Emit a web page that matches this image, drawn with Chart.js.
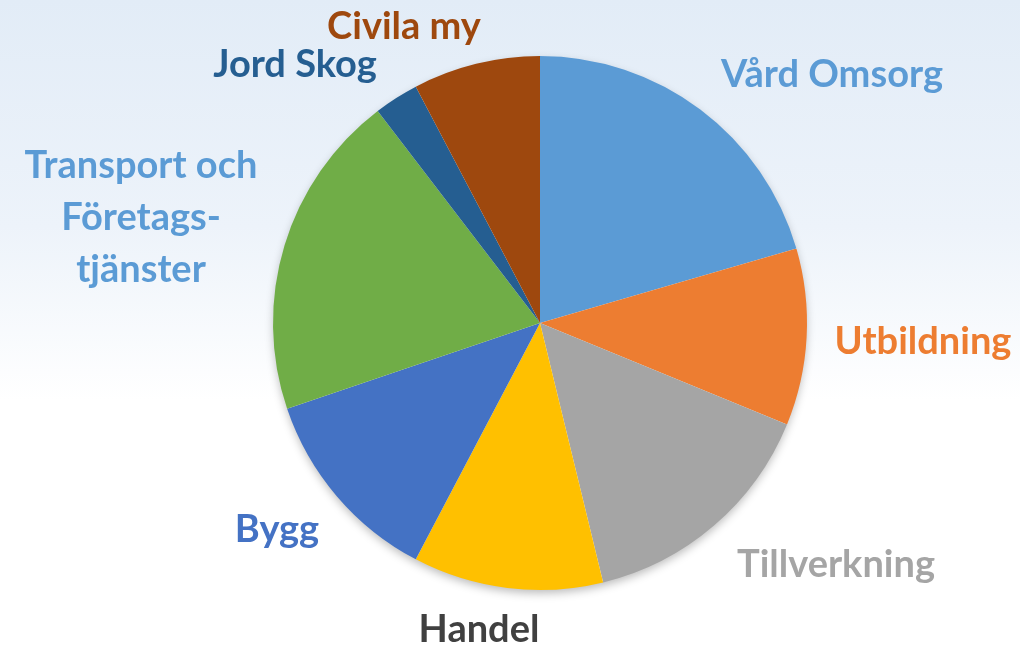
<!DOCTYPE html>
<html>
<head>
<meta charset="utf-8">
<script src="https://cdn.jsdelivr.net/npm/chart.js@4"></script>
<style>
  html, body { margin: 0; padding: 0; }
  body {
    width: 1020px; height: 647px; overflow: hidden;
    background: linear-gradient(to bottom, #e2ecf7 0%, #edf3fa 35%, #ffffff 62%, #ffffff 100%);
  }
  #wrap { position: relative; width: 1020px; height: 647px; }
</style>
</head>
<body>
<div id="wrap"><canvas id="pie"></canvas></div>
<script>
const categories = ['Vård Omsorg', 'Utbildning', 'Tillverkning', 'Handel', 'Bygg',
  'Transport och Företags- tjänster', 'Jord Skog', 'Civila my'];
const shares = [20.5, 10.7, 15.0, 11.5, 12.1, 19.8, 2.7, 7.7];
const colors = ['#5b9bd5', '#ed7d31', '#a5a5a5', '#ffc000', '#4472c4', '#70ad47', '#255e91', '#9e480e'];
const labelColors = ['#5b9bd5', '#ed7d31', '#a5a5a5', '#404040', '#4472c4', '#5b9bd5', '#255e91', '#9e480e'];
const labelLines = [['Vård Omsorg'], ['Utbildning'], ['Tillverkning'], ['Handel'], ['Bygg'],
  ['Transport och', 'Företags-', 'tjänster'], ['Jord Skog'], ['Civila my']];
// label centre offsets from the pie centre, px
const labelOffsets = [[292, -248], [383, 19], [296, 242], [-61, 307], [-263, 207],
  [-399, -105], [-245, -258], [-136, -296]];

const pieShadow = {
  id: 'pieShadow',
  beforeDatasetsDraw(chart) {
    const arc = chart.getDatasetMeta(0).data[0];
    if (!arc) return;
    const ctx = chart.ctx;
    ctx.save();
    ctx.shadowColor = 'rgba(0,0,0,0.28)';
    ctx.shadowBlur = 10;
    ctx.shadowOffsetY = 4;
    ctx.fillStyle = '#ffffff';
    ctx.beginPath();
    ctx.arc(arc.x, arc.y, arc.outerRadius - 1, 0, Math.PI * 2);
    ctx.fill();
    ctx.restore();
  }
};

const outerLabels = {
  id: 'outerLabels',
  afterDraw(chart) {
    const ctx = chart.ctx;
    const meta = chart.getDatasetMeta(0);
    ctx.save();
    ctx.font = 'bold 38px Lato, "Open Sans", sans-serif';
    ctx.textAlign = 'center';
    ctx.textBaseline = 'middle';
    meta.data.forEach((arc, i) => {
      const lines = labelLines[i];
      const lh = 52;
      const cx = arc.x + labelOffsets[i][0];
      const cy = arc.y + labelOffsets[i][1];
      ctx.fillStyle = labelColors[i];
      lines.forEach((t, j) => {
        ctx.fillText(t, cx, cy + (j - (lines.length - 1) / 2) * lh);
      });
    });
    ctx.restore();
  }
};

new Chart(document.getElementById('pie'), {
  type: 'pie',
  data: {
    labels: categories,
    datasets: [{
      data: shares,
      backgroundColor: colors,
      borderWidth: 0
    }]
  },
  options: {
    responsive: true,
    maintainAspectRatio: false,
    animation: false,
    layout: { padding: { left: 273, right: 213, top: 56, bottom: 57 } },
    plugins: {
      legend: { display: false },
      tooltip: { enabled: false }
    }
  },
  plugins: [pieShadow, outerLabels]
});
</script>
</body>
</html>
